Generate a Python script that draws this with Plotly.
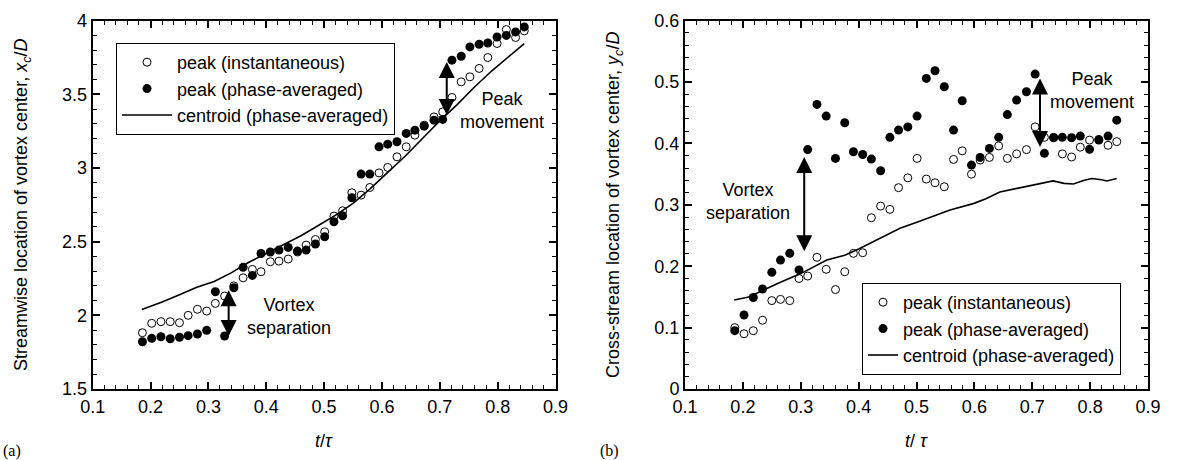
import plotly.graph_objects as go

# ---------------- data ----------------
t_values = [0.186, 0.202, 0.218, 0.234, 0.250, 0.265, 0.281, 0.297, 0.312, 0.328,
            0.344, 0.360, 0.376, 0.391, 0.407, 0.422, 0.438, 0.454, 0.469, 0.485,
            0.501, 0.517, 0.532, 0.548, 0.564, 0.579, 0.595, 0.610, 0.626, 0.642,
            0.657, 0.673, 0.690, 0.705, 0.721, 0.737, 0.752, 0.768, 0.783, 0.799,
            0.815, 0.831, 0.846]

# (a) streamwise location x_c/D
xc_peak_inst = [1.882, 1.946, 1.957, 1.957, 1.950, 2.000, 2.041, 2.029, 2.081, 2.131,
                2.200, 2.255, 2.312, 2.296, 2.364, 2.368, 2.382, 2.430, 2.477, 2.515,
                2.567, 2.674, 2.710, 2.832, 2.816, 2.868, 2.967, 3.004, 3.076, 3.144,
                3.223, 3.291, 3.347, 3.381, 3.479, 3.585, 3.619, 3.676, 3.750, 3.845,
                3.940, 3.886, 3.931]
xc_peak_phase = [1.821, 1.844, 1.855, 1.841, 1.851, 1.862, 1.873, 1.898, 2.160, 1.860,
                 2.187, 2.326, 2.271, 2.420, 2.430, 2.443, 2.461, 2.436, 2.443, 2.484,
                 2.533, 2.635, 2.676, 2.798, 2.959, 2.959, 3.144, 3.162, 3.178, 3.235,
                 3.257, 3.284, 3.325, 3.330, 3.732, 3.759, 3.822, 3.840, 3.849, 3.889,
                 3.900, 3.924, 3.958]
t_centroid_a = [0.185, 0.22, 0.25, 0.28, 0.31, 0.34, 0.37, 0.40, 0.43, 0.46, 0.49, 0.52,
                0.55, 0.58, 0.61, 0.64, 0.67, 0.70, 0.73, 0.76, 0.79, 0.82, 0.846]
xc_centroid = [2.04, 2.09, 2.14, 2.19, 2.23, 2.29, 2.36, 2.42, 2.48, 2.54, 2.61, 2.68,
               2.76, 2.86, 2.97, 3.08, 3.20, 3.32, 3.43, 3.55, 3.66, 3.76, 3.845]

# (b) cross-stream location y_c/D
yc_peak_inst = [0.100, 0.090, 0.095, 0.112, 0.144, 0.146, 0.144, 0.180, 0.184, 0.2145,
                0.195, 0.162, 0.191, 0.221, 0.222, 0.279, 0.298, 0.2926, 0.328, 0.344,
                0.3757, 0.342, 0.336, 0.3295, 0.374, 0.388, 0.350, 0.373, 0.3773, 0.396,
                0.3757, 0.383, 0.390, 0.427, 0.410, 0.410, 0.383, 0.378, 0.394, 0.4055,
                0.4066, 0.397, 0.403]
yc_peak_phase = [0.095, 0.1205, 0.149, 0.163, 0.190, 0.210, 0.221, 0.194, 0.390, 0.4636,
                 0.4446, 0.3757, 0.4337, 0.3865, 0.382, 0.3746, 0.3556, 0.410, 0.4218, 0.427,
                 0.4446, 0.506, 0.5185, 0.4924, 0.4218, 0.4696, 0.3648, 0.3773, 0.392, 0.410,
                 0.447, 0.4707, 0.4842, 0.513, 0.3839, 0.4093, 0.410, 0.4093, 0.412, 0.3904,
                 0.4055, 0.412, 0.438]
t_centroid_b = [0.185, 0.21, 0.235, 0.26, 0.30, 0.345, 0.376, 0.40, 0.425, 0.45, 0.4715,
                0.503, 0.53, 0.558, 0.598, 0.62, 0.644, 0.67, 0.69, 0.715, 0.736, 0.755,
                0.771, 0.79, 0.803, 0.82, 0.829, 0.846]
yc_centroid = [0.145, 0.150, 0.161, 0.172, 0.188, 0.210, 0.218, 0.228, 0.240, 0.252, 0.262,
               0.2725, 0.282, 0.2915, 0.302, 0.310, 0.321, 0.326, 0.330, 0.335, 0.339, 0.335,
               0.334, 0.340, 0.343, 0.341, 0.339, 0.343]

legend_names = ["peak (instantaneous)", "peak (phase-averaged)", "centroid (phase-averaged)"]

FONT = "Liberation Sans, Arial, sans-serif"
SERIF = "Liberation Serif, Times New Roman, serif"
W, H = 1178, 460

fig = go.Figure()

def add_panel(xa, ya, inst, phase, tc, cent, legend):
    fig.add_trace(go.Scatter(x=t_values, y=inst, mode="markers", name=legend_names[0],
                             marker=dict(symbol="circle", size=8, color="white",
                                         line=dict(color="black", width=1)),
                             xaxis=xa, yaxis=ya, legend=legend))
    fig.add_trace(go.Scatter(x=t_values, y=phase, mode="markers", name=legend_names[1],
                             marker=dict(symbol="circle", size=9, color="black",
                                         line=dict(color="black", width=0)),
                             xaxis=xa, yaxis=ya, legend=legend))
    fig.add_trace(go.Scatter(x=tc, y=cent, mode="lines", name=legend_names[2],
                             line=dict(color="black", width=1.6),
                             xaxis=xa, yaxis=ya, legend=legend))

add_panel("x", "y", xc_peak_inst, xc_peak_phase, t_centroid_a, xc_centroid, "legend")
add_panel("x2", "y2", yc_peak_inst, yc_peak_phase, t_centroid_b, yc_centroid, "legend2")

y_dom = [(H - 389) / H, (H - 20.7) / H]

def axis(domain, rng, dtick, minor_dtick, anchor):
    return dict(domain=domain, range=rng, dtick=dtick, tick0=0, anchor=anchor,
                automargin=False,
                showline=True, linecolor="black", linewidth=2, mirror="ticks",
                ticks="inside", ticklen=7, tickwidth=1.5, tickcolor="black",
                tickfont=dict(size=18, color="black", family=FONT),
                showgrid=False, zeroline=False, fixedrange=True,
                minor=dict(ticks="inside", ticklen=4, tickwidth=1, tickcolor="black",
                           dtick=minor_dtick, tick0=0, showgrid=False))

fig.update_layout(
    width=W, height=H,
    margin=dict(l=0, r=0, t=0, b=0, pad=0, autoexpand=False),
    paper_bgcolor="white", plot_bgcolor="white",
    font=dict(family=FONT, size=18, color="black"),
    xaxis=axis([92.7 / W, 555.5 / W], [0.1, 0.9], 0.1, 0.02, "y"),
    yaxis=axis(y_dom, [1.5, 4.0], 0.5, 0.1, "x"),
    xaxis2=axis([685 / W, 1148 / W], [0.1, 0.9], 0.1, 0.02, "y2"),
    yaxis2=axis(y_dom, [0.0, 0.6], 0.1, 0.02, "x2"),
    legend=dict(x=116 / W, y=(H - 43) / H, xanchor="left", yanchor="top",
                bgcolor="white", bordercolor="black", borderwidth=1,
                font=dict(size=18, family=FONT, color="black"),
                itemwidth=50, tracegroupgap=0),
    legend2=dict(x=862 / W, y=(H - 283) / H, xanchor="left", yanchor="top",
                 bgcolor="white", bordercolor="black", borderwidth=1,
                 font=dict(size=18, family=FONT, color="black"),
                 itemwidth=30, tracegroupgap=0),
    showlegend=True,
)

ann = []

def paper_text(text, px, py, size=18, family=FONT, angle=0, xanchor="center"):
    return dict(text=text, xref="paper", yref="paper", x=px / W, y=(H - py) / H,
                xanchor=xanchor, yanchor="middle", textangle=angle, showarrow=False,
                font=dict(size=size, family=family, color="black"))

# axis titles
ann.append(paper_text("Streamwise location of vortex center, <i>x</i><sub><i>c</i></sub>/<i>D</i>",
                      22, 205, angle=-90))
ann.append(paper_text("Cross-stream location of vortex center, <i>y</i><sub><i>c</i></sub>/<i>D</i>",
                      614, 205, angle=-90))
ann.append(paper_text("<i>t</i>/<i>τ</i>", 324, 441))
ann.append(paper_text("<i>t</i>/ <i>τ</i>", 916.5, 441))
ann.append(paper_text("(a)", 1, 451, size=16, family=SERIF, xanchor="left"))
ann.append(paper_text("(b)", 598, 451, size=16, family=SERIF, xanchor="left"))

# text labels
def data_text(text, xr, yr, xv, yv):
    return dict(text=text, xref=xr, yref=yr, x=xv, y=yv, xanchor="center", yanchor="middle",
                showarrow=False, font=dict(size=18, family=FONT, color="black"))

ann.append(data_text("Vortex<br>separation", "x", "y", 0.439, 1.99))
ann.append(data_text("Peak<br>movement", "x", "y", 0.808, 3.393))
ann.append(data_text("Vortex<br>separation", "x2", "y2", 0.209, 0.305))
ann.append(data_text("Peak<br>movement", "x2", "y2", 0.804, 0.486))

# double-headed arrows
def darrow(xr, yr, xv, y0, y1):
    return dict(text="", x=xv, y=y1, ax=xv, ay=y0, xref=xr, yref=yr, axref=xr, ayref=yr,
                showarrow=True, arrowhead=2, startarrowhead=2, arrowside="end+start",
                arrowsize=1.6, startarrowsize=1.6, arrowwidth=2, arrowcolor="black",
                standoff=0, startstandoff=0)

ann.append(darrow("x", "y", 0.335, 1.85, 2.17))
ann.append(darrow("x", "y", 0.712, 3.35, 3.72))
ann.append(darrow("x2", "y2", 0.306, 0.222, 0.378))
ann.append(darrow("x2", "y2", 0.7134, 0.392, 0.506))

fig.update_layout(annotations=ann)

fig.write_html("out.html")
